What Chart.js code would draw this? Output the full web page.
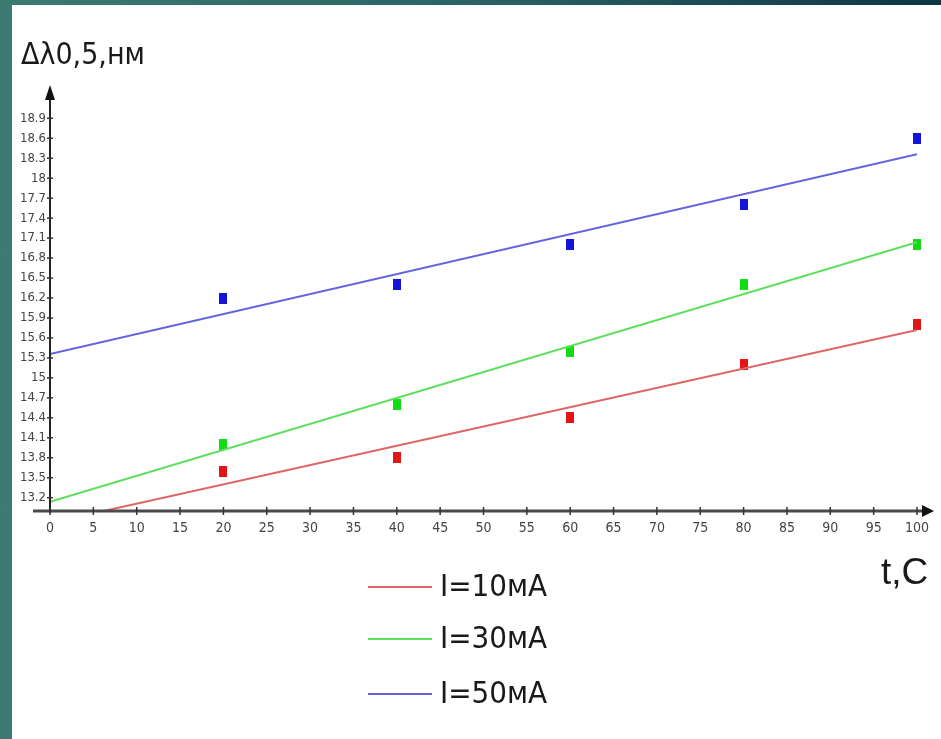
<!DOCTYPE html>
<html>
<head>
<meta charset="utf-8">
<script src="https://cdn.jsdelivr.net/npm/chart.js@4.4.1/dist/chart.umd.min.js"></script>
<style>
  html, body { margin: 0; padding: 0; }
  body {
    width: 941px; height: 739px; overflow: hidden; position: relative;
    background: linear-gradient(90deg, #3b7b72 0%, #2a6466 50%, #0e3546 100%);
  }
  #paper { position: absolute; left: 12px; top: 5px; right: 0; bottom: 0; background: #fff; }
  #wrap { position: absolute; left: 0; top: 0; width: 941px; height: 739px; }
  .lbl { position: absolute; color: #1a1a1a; white-space: nowrap; }
  #ytitle { left: 21px; top: 36px; font: 30px "DejaVu Sans Condensed", "Liberation Sans Narrow", sans-serif; }
  #xtitle { left: 881px; top: 551px; font: 37px "Liberation Sans", Arial, sans-serif; }
  .leg { position: absolute; left: 368px; height: 40px; font: 31px "DejaVu Sans Condensed", "Liberation Sans Narrow", sans-serif; color: #1a1a1a; }
  .leg span.ln { position: absolute; left: 0; top: 19px; width: 64px; height: 2px; }
  .leg span.tx { position: absolute; left: 72px; top: 0; }
</style>
</head>
<body>
<div id="paper"></div>
<div id="wrap"><canvas id="chart" width="941" height="739"></canvas></div>
<div class="lbl" id="ytitle">Δλ0,5,нм</div>
<div class="lbl" id="xtitle">t,C</div>
<div id="legend"></div>
<script>
// Temperatuur (t, C) van de meetpunten
const temps = [20, 40, 60, 80, 100];
// Gemeten Δλ0,5 per stroom
const i10 = [13.6, 13.8, 14.4, 15.2, 15.8];
const i30 = [14.0, 14.6, 15.4, 16.4, 17.0];
const i50 = [16.2, 16.4, 17.0, 17.6, 18.6];
const fitX = [0, 100];
const fit10 = [12.82, 15.72];
const fit30 = [13.14, 17.04];
const fit50 = [15.36, 18.36];
// As-labels
const yTicks = [13.2, 13.5, 13.8, 14.1, 14.4, 14.7, 15, 15.3, 15.6, 15.9, 16.2, 16.5, 16.8, 17.1, 17.4, 17.7, 18, 18.3, 18.6, 18.9];
const labels = ["I=10мА", "I=30мА", "I=50мА"];

const markColors = ["#e21414", "#14dc14", "#1414dc"];
const lineColors = ["#e06464", "#5ae05a", "#6464e0"];

// Klein rechthoekje als punt-stijl
function marker(color) {
    var c = document.createElement("canvas");
    c.width = 8; c.height = 11;
    var g = c.getContext("2d");
    g.fillStyle = color;
    g.fillRect(0, 0, 8, 11);
    return c;
}

function pts(xs, ys) {
    return xs.map(function (x, i) { return { x: x, y: ys[i] }; });
}

const series = [i10, i30, i50];
const fits = [fit10, fit30, fit50];

var datasets = [];
series.forEach(function (s, k) {
    datasets.push({
        type: "line",
        label: labels[k] + " fit",
        data: pts(fitX, fits[k]),
        borderColor: lineColors[k],
        borderWidth: 2,
        pointRadius: 0,
        fill: false
    });
    datasets.push({
        type: "scatter",
        label: labels[k],
        data: pts(temps, s),
        pointStyle: marker(markColors[k]),
        pointRadius: 6,
        backgroundColor: markColors[k],
        clip: false
    });
});

// Assen met pijlen en kruisjes
const axesArrows = {
    id: "axesArrows",
    afterDraw: function (chart) {
        var ctx = chart.ctx, a = chart.chartArea, x = chart.scales.x, y = chart.scales.y;
        var x0 = x.getPixelForValue(0), y0 = a.bottom;
        ctx.save();
        ctx.strokeStyle = "#4a4a4a";
        ctx.fillStyle = "#111";
        // x-as
        ctx.lineWidth = 3;
        ctx.beginPath(); ctx.moveTo(33, y0); ctx.lineTo(924, y0); ctx.stroke();
        ctx.beginPath(); ctx.moveTo(934, y0); ctx.lineTo(922, y0 - 6); ctx.lineTo(922, y0 + 6); ctx.closePath(); ctx.fill();
        // y-as
        ctx.lineWidth = 2;
        ctx.strokeStyle = "#222";
        ctx.beginPath(); ctx.moveTo(x0, y0 + 2); ctx.lineTo(x0, a.top + 12); ctx.stroke();
        ctx.beginPath(); ctx.moveTo(x0, a.top); ctx.lineTo(x0 - 5, a.top + 15); ctx.lineTo(x0 + 5, a.top + 15); ctx.closePath(); ctx.fill();
        // tick kruisjes
        ctx.lineWidth = 1.5;
        ctx.strokeStyle = "#333";
        x.ticks.forEach(function (t) {
            var p = x.getPixelForValue(t.value);
            ctx.beginPath(); ctx.moveTo(p, y0 - 4); ctx.lineTo(p, y0 + 4); ctx.stroke();
        });
        y.ticks.forEach(function (t) {
            var p = y.getPixelForValue(t.value);
            ctx.beginPath(); ctx.moveTo(x0 - 3, p); ctx.lineTo(x0 + 3, p); ctx.stroke();
        });
        ctx.restore();
    }
};

window.onload = function () {
    var ctx = document.getElementById("chart").getContext("2d");
    new Chart(ctx, {
        type: "scatter",
        data: { datasets: datasets },
        plugins: [axesArrows],
        options: {
            responsive: false,
            animation: false,
            layout: { padding: { left: 0, top: 85, right: 24, bottom: 188 } },
            plugins: { legend: { display: false }, tooltip: { enabled: false } },
            scales: {
                x: {
                    type: "linear",
                    min: 0, max: 100,
                    grid: { display: false, drawTicks: false },
                    border: { display: false },
                    ticks: {
                        stepSize: 5,
                        padding: 9,
                        color: "#444",
                        maxRotation: 0,
                        autoSkip: false,
                        font: { family: "'DejaVu Sans Condensed', 'Liberation Sans Narrow', sans-serif", size: 14 }
                    },
                    afterFit: function (s) { s.height = 40; }
                },
                y: {
                    type: "linear",
                    min: 13.0, max: 19.4,
                    grid: { display: false, drawTicks: false },
                    border: { display: false },
                    afterBuildTicks: function (s) {
                        s.ticks = yTicks.map(function (v) { return { value: v }; });
                    },
                    ticks: {
                        padding: 4,
                        color: "#444",
                        autoSkip: false,
                        callback: function (v) { return String(v); },
                        font: { family: "'DejaVu Sans Condensed', 'Liberation Sans Narrow', sans-serif", size: 13 }
                    },
                    afterFit: function (s) { s.width = 50; }
                }
            }
        }
    });

    // Legenda als tekst
    var leg = document.getElementById("legend");
    var tops = [567, 619, 674];
    labels.forEach(function (l, k) {
        var d = document.createElement("div");
        d.className = "leg";
        d.style.top = tops[k] + "px";
        d.innerHTML = '<span class="ln" style="background:' + lineColors[k] + '"></span><span class="tx">' + l + '</span>';
        leg.appendChild(d);
    });
};
</script>
</body>
</html>
